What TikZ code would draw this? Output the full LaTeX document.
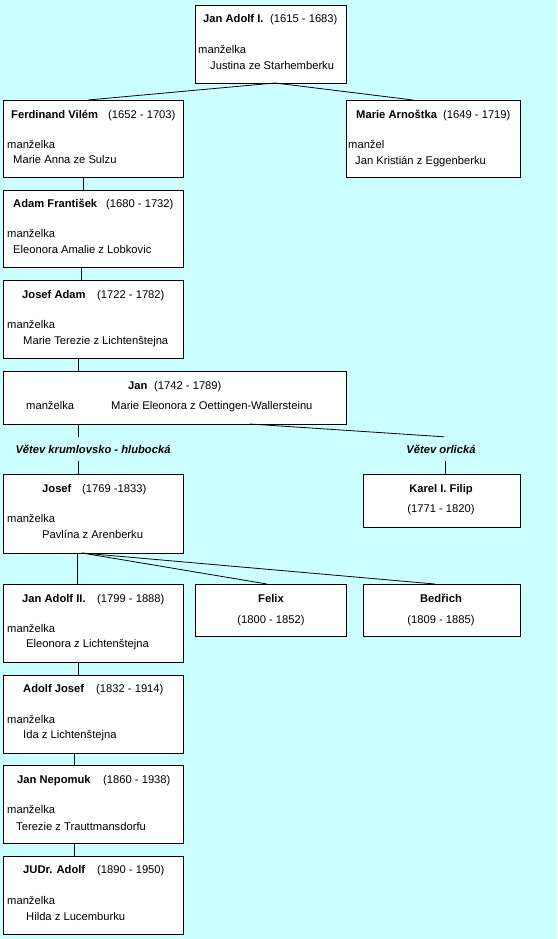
\documentclass[tikz,border=0pt]{standalone}
\usepackage{fontspec}
\setmainfont{Liberation Sans}
\usetikzlibrary{positioning}
\definecolor{BgCyan}{RGB}{204,255,255}
\tikzset{
  box/.style={draw=black,fill=white,line width=0.8pt,anchor=north west,inner sep=0pt,outer sep=0pt},
  txt/.style={anchor=base west,inner sep=0pt,font=\fontsize{11.2}{13}\selectfont},
  jmeno/.style={txt,font=\fontsize{11.2}{13}\selectfont\bfseries},
  stred/.style={txt,anchor=base},
  jmenostred/.style={jmeno,anchor=base},
  vetev/.style={anchor=base,inner xsep=0pt,inner ysep=7pt,text height=9pt,text depth=1pt,
    font=\fontsize{11.2}{13}\selectfont\bfseries\itshape},
  hrana/.style={draw=black,line width=0.8pt},
}
\begin{document}
\begin{tikzpicture}[x=1pt,y=-1pt]
\path[use as bounding box,fill=BgCyan] (0,0) rectangle (557,939);
\foreach \n/\x/\y/\w/\h in {jan1/195/5/151/78, ferd/3/100/180/77, arn/346/100/174/77,
    adam/3/190/180/77, jadam/3/280/180/78, jan/3/371/343/53, josef/3/474/180/79,
    karel/363/474/157/53, jan2/3/584/180/78, felix/195/584/151/52, bedr/363/584/157/52,
    ajos/3/675/180/78, jnep/3/765/180/78, judr/3/856/180/78}
  \node[box,minimum width=\w,minimum height=\h] (\n) at (\x,\y) {};

\node[jmeno] (jan1-j) at (203,23) {Jan Adolf I.};
\node[txt] (jan1-d) at (270,23) {(1615 - 1683)};
\node[txt] (jan1-m) at (198,54) {manželka};
\node[txt] (jan1-s) at (210,70) {Justina ze Starhemberku};

\node[jmeno] (ferd-j) at (11,118) {Ferdinand Vilém};
\node[txt] (ferd-d) at (108,118) {(1652 - 1703)};
\node[txt] (ferd-s) at (13,163) {Marie Anna ze Sulzu};

\node[jmeno] (arn-j) at (356,118) {Marie Arnoštka};
\node[txt] (arn-d) at (443,118) {(1649 - 1719)};
\node[txt] (arn-m) at (348,148) {manžel};
\node[txt] (arn-s) at (355,164) {Jan Kristián z Eggenberku};

\node[jmeno] (adam-j) at (13,207) {Adam František};
\node[txt] (adam-d) at (106,207) {(1680 - 1732)};
\node[txt] (adam-s) at (13,253) {Eleonora Amalie z Lobkovic};

\node[jmeno] (jadam-j) at (22,298) {Josef Adam};
\node[txt] (jadam-d) at (97,298) {(1722 - 1782)};
\node[txt] (jadam-s) at (23,344) {Marie Terezie z Lichtenštejna};

\node[jmeno] (jan-j) at (128,389) {Jan};
\node[txt] (jan-d) at (154,389) {(1742 - 1789)};
\node[txt] (jan-m) at (26,409) {manželka};
\node[txt] (jan-s) at (111,409) {Marie Eleonora z Oettingen-Wallersteinu};

\node[vetev] (vetevK) at (93,453) {Větev krumlovsko - hlubocká};
\node[vetev] (vetevO) at (441,453) {Větev orlická};

\node[jmeno] (josef-j) at (42,492) {Josef};
\node[txt] (josef-d) at (82,492) {(1769 -1833)};
\node[txt] (josef-s) at (42,538) {Pavlína z Arenberku};

\node[jmenostred] (karel-j) at (441,492) {Karel I. Filip};
\node[stred] (karel-d) at (441,512) {(1771 - 1820)};

\node[jmeno] (jan2-j) at (22,602) {Jan Adolf II.};
\node[txt] (jan2-d) at (97,602) {(1799 - 1888)};
\node[txt] (jan2-s) at (26,647) {Eleonora z Lichtenštejna};

\node[jmenostred] (felix-j) at (271,602) {Felix};
\node[stred] (felix-d) at (271,623) {(1800 - 1852)};
\node[jmenostred] (bedr-j) at (441,602) {Bedřich};
\node[stred] (bedr-d) at (441,623) {(1809 - 1885)};

\node[jmeno] (ajos-j) at (23,692) {Adolf Josef};
\node[txt] (ajos-d) at (96,692) {(1832 - 1914)};
\node[txt] (ajos-s) at (23,738) {Ida z Lichtenštejna};

\node[jmeno] (jnep-j) at (17,783) {Jan Nepomuk};
\node[txt] (jnep-d) at (103,783) {(1860 - 1938)};
\node[txt] (jnep-s) at (16,830) {Terezie z Trauttmansdorfu};

\node[jmeno] (judr-j) at (23,873) {JUDr. Adolf};
\node[txt] (judr-d) at (97,873) {(1890 - 1950)};
\node[txt] (judr-s) at (26,920) {Hilda z Lucemburku};

\foreach \n/\y in {ferd/148, adam/237, jadam/328, josef/522, jan2/632, ajos/723, jnep/813, judr/904}
  \node[txt] (\n-m) at (7,\y) {manželka};

\draw[hrana] (jan1.south -| 275,0) -- (ferd.north -| 88,0);
\draw[hrana] (jan1.south -| 275,0) -- (arn.north -| 413,0);
\draw[hrana] (ferd.south -| 83,0) -- (adam.north -| 83,0);
\draw[hrana] (adam.south -| 81,0) -- (jadam.north -| 81,0);
\draw[hrana] (jadam.south -| 78,0) -- (jan.north -| 78,0);
\draw[hrana] (jan.south -| 78,0) -- (vetevK.north -| 78,0);
\draw[hrana] (vetevK.south -| 78,0) -- (josef.north -| 78,0);
\draw[hrana] (jan.south -| 250,0) -- (vetevO.north -| 444,0);
\draw[hrana] (vetevO.south -| 445,0) -- (karel.north -| 445,0);
\draw[hrana] (josef.south -| 77,0) -- (jan2.north -| 77,0);
\draw[hrana] (josef.south -| 82,0) -- (felix.north -| 267,0);
\draw[hrana] (josef.south -| 82,0) -- (bedr.north -| 435,0);
\draw[hrana] (jan2.south -| 78,0) -- (ajos.north -| 78,0);
\draw[hrana] (ajos.south -| 74,0) -- (jnep.north -| 74,0);
\draw[hrana] (jnep.south -| 74,0) -- (judr.north -| 74,0);
\end{tikzpicture}
\end{document}
